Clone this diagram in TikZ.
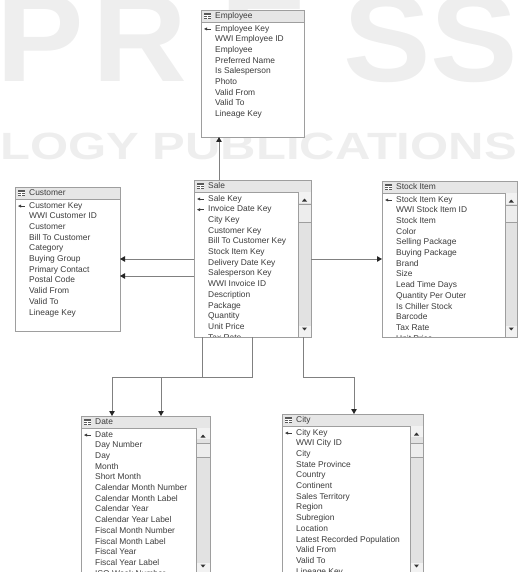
\documentclass[tikz,border=0pt]{standalone}
\usepackage{fontspec}
\setmainfont{Liberation Sans}
\usetikzlibrary{arrows.meta}
\definecolor{bordergray}{HTML}{9E9E9E}
\definecolor{hdrgray}{HTML}{E6E6E6}
\definecolor{trackgray}{HTML}{E2E2E2}
\definecolor{txtgray}{HTML}{3C3C3C}
\definecolor{wmgray}{HTML}{EEEEEE}
\definecolor{linegray}{HTML}{808080}
\tikzset{
  tbl/.style={draw=bordergray, line width=0.9pt, fill=white, inner sep=0pt, outer sep=0pt},
  rowtxt/.style={anchor=west, inner sep=0pt, text height=6.2pt, text depth=1.8pt, font=\fontsize{8.4}{9}\selectfont, text=txtgray},
  conn/.style={draw=linegray, line width=0.9pt, -{Triangle[length=5pt,width=5.5pt,color=black!85]}},
  wm/.style={anchor=base west, inner sep=0pt, text=wmgray},
  keyicon/.style={draw=txtgray, line width=0.8pt},
  sbtri/.style={fill=black!80},
}
% #1 name, #2 x, #3 y, #4 width, #5 height, #6 title, #7 number of key rows, #8 rows, #9 extra
\newcommand\dbtab[9]{%
  \pgfmathsetmacro\tabR{#2+#4}%
  \pgfmathsetmacro\tabB{#3+#5}%
  \node[tbl, minimum width=#4pt, minimum height=#5pt, anchor=north west] (#1) at (#2,#3) {};
  \begin{scope}
    \clip (#2,#3) rectangle (\tabR,\tabB);
    \fill[hdrgray] (#2,#3) rectangle (\tabR,#3+12);
    \draw[bordergray, line width=0.6pt] (#2,#3+12) -- (\tabR,#3+12);
    \fill[black!65] (#2+3,#3+3) rectangle (#2+10,#3+9);
    \draw[white, line width=0.4pt] (#2+3,#3+5) -- (#2+10,#3+5) (#2+3,#3+7) -- (#2+10,#3+7) (#2+6.5,#3+5) -- (#2+6.5,#3+9);
    \node[rowtxt] (#1-title) at (#2+14,#3+6.3) {#6};
    \foreach \t [count=\i] in {#8} {
      \node[rowtxt] (#1-\i) at ({#2+14},{#3+19+(\i-1)*10.68}) {\t};
      \ifnum\i>#7\relax\else
        \draw[keyicon] ({#2+5},{#3+19+(\i-1)*10.68}) -- ({#2+10},{#3+19+(\i-1)*10.68});
        \fill[txtgray] ({#2+3},{#3+19+(\i-1)*10.68}) -- ({#2+6},{#3+17.5+(\i-1)*10.68}) -- ({#2+6},{#3+20.5+(\i-1)*10.68}) -- cycle;
      \fi
    }
    #9
  \end{scope}
  \draw[draw=bordergray, line width=0.9pt] (#2,#3) rectangle (\tabR,\tabB);
}
% scrollbar: #1 x1, #2 x2, #3 ytop, #4 ybot, #5 thumb top, #6 thumb bottom
\newcommand\sbar[6]{%
  \fill[trackgray] (#1,#3) rectangle (#2,#4);
  \fill[white!95!black] (#1,#3) rectangle (#2,#3+11);
  \fill[white!95!black] (#1,#4-11) rectangle (#2,#4);
  \filldraw[fill=white!93!black, draw=bordergray, line width=0.5pt] (#1,#5) rectangle (#2,#6);
  \draw[bordergray, line width=0.6pt] (#1,#3) -- (#1,#4);
  \fill[sbtri] ({(#1+#2)/2-2.5},#3+9.5) -- ({(#1+#2)/2+2.5},#3+9.5) -- ({(#1+#2)/2},#3+6.5) -- cycle;
  \fill[sbtri] ({(#1+#2)/2-2.5},#4-9.5) -- ({(#1+#2)/2+2.5},#4-9.5) -- ({(#1+#2)/2},#4-6.5) -- cycle;
}
\begin{document}
\begin{tikzpicture}[x=1pt,y=-1pt]
\useasboundingbox (0,0) rectangle (518,572);
% watermark
\node[wm, font=\fontsize{125}{125}\bfseries\selectfont, xscale=1.05] (wmP) at (-4,82) {P};
\node[wm, font=\fontsize{125}{125}\bfseries\selectfont, xscale=1.05] (wmR) at (92,82) {R};
\node[wm, font=\fontsize{125}{125}\bfseries\selectfont, xscale=1.05] (wmE) at (220,82) {E};
\node[wm, font=\fontsize{125}{125}\bfseries\selectfont, xscale=1.05] (wmS1) at (343,82) {S};
\node[wm, font=\fontsize{125}{125}\bfseries\selectfont, xscale=1.05] (wmS2) at (430,82) {S};
\node[wm, font=\fontsize{38}{38}\bfseries\selectfont, xscale=1.29] (wmL) at (0,160) {LOGY PUBLICATIONS};

\dbtab{emp}{201}{10}{103}{127}{Employee}{1}{Employee Key,WWI Employee ID,Employee,Preferred Name,Is Salesperson,Photo,Valid From,Valid To,Lineage Key}{}
\dbtab{cust}{15}{187}{105}{144}{Customer}{1}{Customer Key,WWI Customer ID,Customer,Bill To Customer,Category,Buying Group,Primary Contact,Postal Code,Valid From,Valid To,Lineage Key}{}
\dbtab{sale}{194}{180}{117}{157}{Sale}{2}{Sale Key,Invoice Date Key,City Key,Customer Key,Bill To Customer Key,Stock Item Key,Delivery Date Key,Salesperson Key,WWI Invoice ID,Description,Package,Quantity,Unit Price,Tax Rate}{\sbar{298}{311}{192}{337}{204}{222}}
\dbtab{stock}{382}{181}{135.5}{156}{Stock Item}{1}{Stock Item Key,WWI Stock Item ID,Stock Item,Color,Selling Package,Buying Package,Brand,Size,Lead Time Days,Quantity Per Outer,Is Chiller Stock,Barcode,Tax Rate,Unit Price}{\sbar{505}{517.5}{193}{337}{205}{222}}
\dbtab{date}{81}{416}{129}{158}{Date}{1}{Date,Day Number,Day,Month,Short Month,Calendar Month Number,Calendar Month Label,Calendar Year,Calendar Year Label,Fiscal Month Number,Fiscal Month Label,Fiscal Year,Fiscal Year Label,ISO Week Number}{\sbar{196}{210}{428}{574}{443}{457}}
\dbtab{city}{282}{414}{141}{160}{City}{1}{City Key,WWI City ID,City,State Province,Country,Continent,Sales Territory,Region,Subregion,Location,Latest Recorded Population,Valid From,Valid To,Lineage Key}{\sbar{410}{423}{426}{574}{443}{457}}

% connectors
\draw[conn] ([xshift=25pt]sale.north west) -- ([xshift=18pt]emp.south west);
\draw[conn] ([yshift=-79pt]sale.north west) -- ([yshift=-79pt]sale.north west -| cust.east);
\draw[conn] ([yshift=-96pt]sale.north west) -- ([yshift=-96pt]sale.north west -| cust.east);
\draw[conn] ([yshift=-79pt]sale.north east) -- ([yshift=-79pt]sale.north east -| stock.west);
\draw[conn] ([xshift=8pt]sale.south west) -- ++(0,40) -| ([xshift=31pt]date.north west);
\draw[conn] ([xshift=58pt]sale.south west) -- ++(0,40) -| ([xshift=80pt]date.north west);
\draw[conn] ([xshift=109pt]sale.south west) -- ++(0,40) -| ([xshift=72pt]city.north west);
\end{tikzpicture}
\end{document}
